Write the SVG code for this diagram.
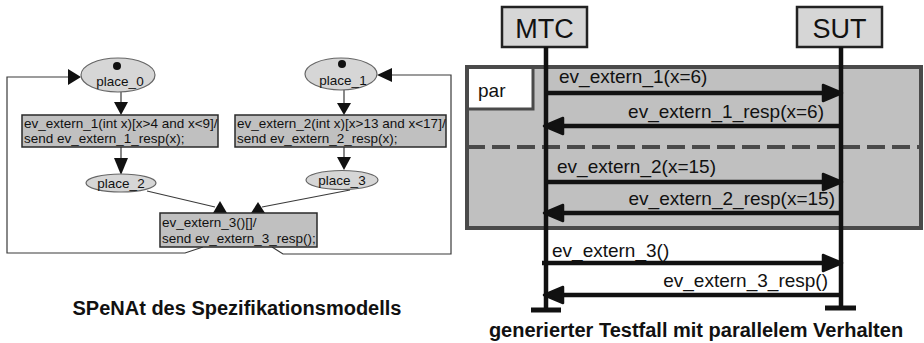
<svg xmlns="http://www.w3.org/2000/svg" width="924" height="343" viewBox="0 0 924 343">
<style>
  .pl { fill: #d6d6d6; stroke: #666; stroke-width: 1.2; }
  .tr { fill: #c0c0c0; stroke: #2a2a2a; stroke-width: 1.5; }
  .t13 { font-family: "Liberation Sans", Arial, sans-serif; font-size: 13.5px; fill: #111; }
  .pt { font-family: "Liberation Sans", Arial, sans-serif; font-size: 13.5px; fill: #111; text-anchor: middle; }
  .edge { fill: none; stroke: #3a3a3a; stroke-width: 1.2; }
  .head { fill: #111; }
  .cap { font-family: "Liberation Sans", Arial, sans-serif; font-size: 20px; font-weight: bold; fill: #111; text-anchor: middle; }
  .life { stroke: #111; stroke-width: 4.5; fill: none; }
  .msg { stroke: #111; stroke-width: 4.5; fill: none; }
  .ah { fill: #111; stroke: #111; stroke-width: 2.5; stroke-linejoin: round; }
  .ml { font-family: "Liberation Sans", Arial, sans-serif; font-size: 19px; fill: #111; }
  .inst { fill: #d6d6d6; stroke: #222; stroke-width: 2.5; }
  .it { font-family: "Liberation Sans", Arial, sans-serif; font-size: 27px; fill: #111; text-anchor: middle; }
</style>

<!-- Left: SPeNAt -->
<g id="connectors">
  <!-- loop left -->
  <polyline class="edge" points="203,247 185,253 7,253 7,77 68,77"/>
  <polygon class="head" points="68,69 81,77 68,85"/>
  <!-- loop right -->
  <polyline class="edge" points="272,247 283,254 451,254 451,75 392,75"/>
  <polygon class="head" points="392,68 377,75 392,82"/>
  <!-- place_0 -> t1 -->
  <line class="edge" x1="121" y1="92" x2="121" y2="103" stroke-width="1.5"/>
  <polygon class="head" points="114,102 128,102 121,115"/>
  <!-- t1 -> place_2 -->
  <line class="edge" x1="121" y1="147" x2="121" y2="159"/>
  <polygon class="head" points="114,158 128,158 121,175"/>
  <!-- place_1 -> t2 -->
  <line class="edge" x1="344" y1="90" x2="344" y2="104"/>
  <polygon class="head" points="337,103 351,103 344,115"/>
  <!-- t2 -> place_3 -->
  <line class="edge" x1="344" y1="147" x2="344" y2="158"/>
  <polygon class="head" points="337,157 351,157 344,170"/>
  <!-- place_2 -> t3 -->
  <line class="edge" x1="147" y1="191" x2="215" y2="207"/>
  <polygon class="head" points="220,201 227,213 213,213"/>
  <!-- place_3 -> t3 -->
  <line class="edge" x1="350" y1="190" x2="262" y2="207"/>
  <polygon class="head" points="258,202 265,213 251,213"/>
</g>

<g id="place_0">
  <ellipse class="pl" cx="118" cy="75" rx="37" ry="17"/>
  <circle cx="117" cy="66" r="4" fill="#111"/>
  <text class="pt" x="120" y="86">place_0</text>
</g>
<g id="place_1">
  <ellipse class="pl" cx="341" cy="74" rx="36" ry="16"/>
  <circle cx="342" cy="64" r="4" fill="#111"/>
  <text class="pt" x="343" y="85">place_1</text>
</g>
<g id="place_2">
  <ellipse class="pl" cx="121" cy="183" rx="35" ry="9"/>
  <text class="pt" x="121" y="188">place_2</text>
</g>
<g id="place_3">
  <ellipse class="pl" cx="342" cy="180" rx="36" ry="9.5"/>
  <text class="pt" x="342" y="185">place_3</text>
</g>
<g id="t1">
  <rect class="tr" x="22" y="115" width="196" height="32"/>
  <text class="t13" x="24" y="128">ev_extern_1(int x)[x&gt;4 and x&lt;9]/</text>
  <text class="t13" x="24" y="143">send ev_extern_1_resp(x);</text>
</g>
<g id="t2">
  <rect class="tr" x="235" y="115" width="211" height="32"/>
  <text class="t13" x="237" y="128">ev_extern_2(int x)[x&gt;13 and x&lt;17]/</text>
  <text class="t13" x="237" y="143">send ev_extern_2_resp(x);</text>
</g>
<g id="t3">
  <rect class="tr" x="160" y="213" width="157" height="34"/>
  <text class="t13" x="162" y="227">ev_extern_3()[]/</text>
  <text class="t13" x="162" y="243">send ev_extern_3_resp();</text>
</g>
<g id="caption_left">
  <text class="cap" x="237" y="315">SPeNAt des Spezifikationsmodells</text>
</g>

<!-- Right: sequence diagram -->
<g id="par_frame">
  <rect x="467" y="67" width="454" height="161" fill="#c0c0c0" stroke="#4a4a4a" stroke-width="4"/>
  <rect x="469" y="69" width="64" height="40" fill="#fff"/>
  <polyline points="533,69 533,109 469,109" fill="none" stroke="#4a4a4a" stroke-width="3"/>
  <text class="ml" x="478" y="97" font-size="17">par</text>
  <line x1="467" y1="147" x2="921" y2="147" stroke="#4a4a4a" stroke-width="4" stroke-dasharray="18 7"/>
</g>

<g id="MTC">
  <rect class="inst" x="502" y="7" width="85" height="40"/>
  <text class="it" x="544.5" y="38">MTC</text>
  <line class="life" x1="546" y1="47" x2="546" y2="310"/>
  <line x1="531" y1="310" x2="561" y2="310" stroke="#111" stroke-width="5"/>
</g>
<g id="SUT">
  <rect class="inst" x="797" y="7" width="85" height="40"/>
  <text class="it" x="839.5" y="38">SUT</text>
  <line class="life" x1="841" y1="47" x2="841" y2="308"/>
  <line x1="825" y1="308" x2="856" y2="308" stroke="#111" stroke-width="5"/>
</g>

<g id="messages">
  <line class="msg" x1="546" y1="93" x2="825" y2="93"/>
  <polygon class="ah" points="823,85 842,93 823,101"/>
  <text class="ml" x="559" y="83">ev_extern_1(x=6)</text>

  <line class="msg" x1="841" y1="126" x2="562" y2="126"/>
  <polygon class="ah" points="563,118 544,126 563,134"/>
  <text class="ml" x="824" y="118" text-anchor="end">ev_extern_1_resp(x=6)</text>

  <line class="msg" x1="546" y1="182" x2="825" y2="182"/>
  <polygon class="ah" points="823,174 842,182 823,190"/>
  <text class="ml" x="557" y="173">ev_extern_2(x=15)</text>

  <line class="msg" x1="841" y1="213" x2="562" y2="213"/>
  <polygon class="ah" points="563,205 544,213 563,221"/>
  <text class="ml" x="835" y="205" text-anchor="end">ev_extern_2_resp(x=15)</text>

  <line class="msg" x1="542" y1="263" x2="825" y2="263"/>
  <polygon class="ah" points="823,255 842,263 823,271"/>
  <text class="ml" x="552" y="257">ev_extern_3()</text>

  <line class="msg" x1="841" y1="295" x2="562" y2="295"/>
  <polygon class="ah" points="563,287 544,295 563,303"/>
  <text class="ml" x="828" y="287" text-anchor="end">ev_extern_3_resp()</text>
</g>

<g id="caption_right">
  <text class="cap" x="696" y="337">generierter Testfall mit parallelem Verhalten</text>
</g>
</svg>
